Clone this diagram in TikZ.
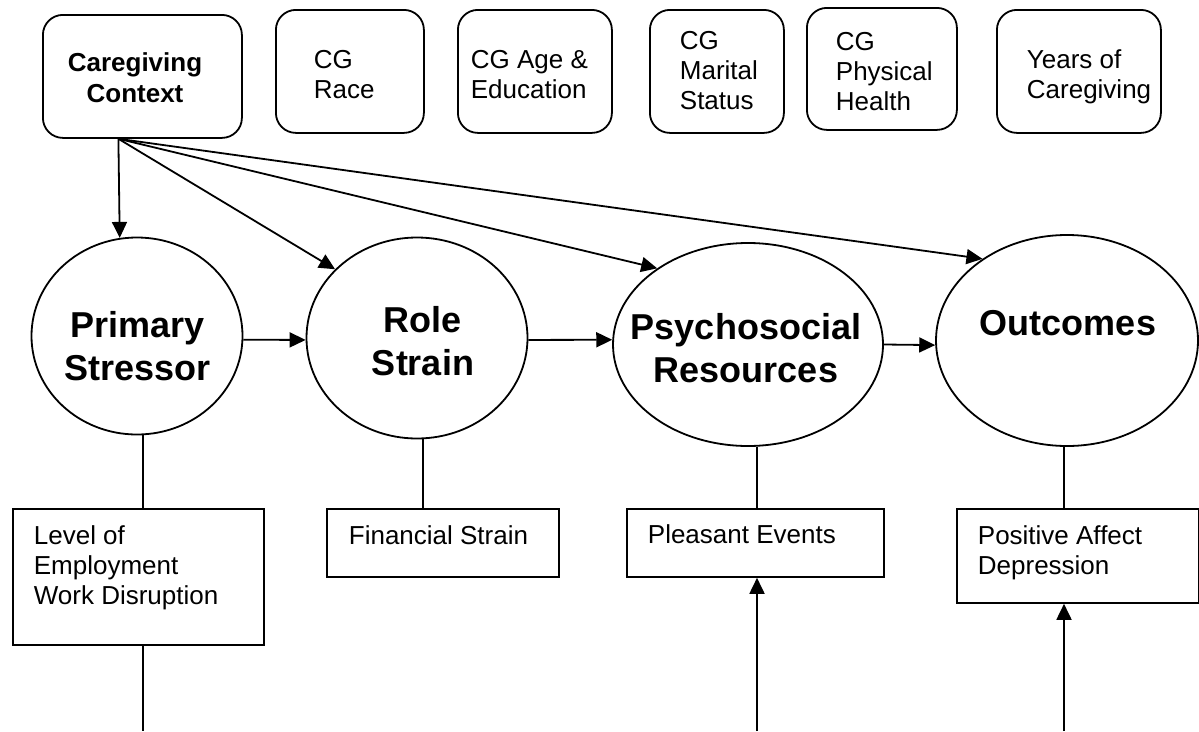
\documentclass[tikz,border=0pt]{standalone}
\usepackage{fontspec}
\setmainfont{Liberation Sans}
\usetikzlibrary{arrows.meta,shapes.geometric}

% stacked lines whose baseline is the baseline of the first line
\newcommand\leftlines[1]{\begin{tabular}[t]{@{}l@{}}#1\end{tabular}}
\newcommand\midlines[1]{\begin{tabular}[t]{@{}c@{}}#1\end{tabular}}

\begin{document}
\begin{tikzpicture}[x=1pt, y=-1pt, line width=1.8pt,
  >={Triangle[length=16pt,width=15pt]},
  rbox/.style={draw, rounded corners=20pt, anchor=north west, inner sep=0pt},
  sbox/.style={draw, anchor=north west, inner sep=0pt},
  oval/.style={draw, ellipse, inner sep=0pt},
  boxtext/.style={font=\fontsize{26}{30}\selectfont, inner sep=0pt, anchor=base west},
  headtext/.style={font=\fontsize{26}{31}\selectfont\bfseries, inner sep=0pt, anchor=base},
  ovaltext/.style={font=\fontsize{36}{43}\selectfont\bfseries, inner sep=0pt, anchor=base}]

\fill[white] (0,0) rectangle (1199,731);
\useasboundingbox (0,0) rectangle (1199,731);

% context boxes along the top
\node[rbox, minimum width=199pt, minimum height=123pt] (cc)   at (42,14)  {};
\node[rbox, minimum width=148pt, minimum height=123pt] (race) at (275,9)  {};
\node[rbox, minimum width=154pt, minimum height=123pt] (age)  at (457,9)  {};
\node[rbox, minimum width=134pt, minimum height=123pt] (mar)  at (649,9)  {};
\node[rbox, minimum width=150pt, minimum height=122pt] (phys) at (806,7)  {};
\node[rbox, minimum width=164pt, minimum height=123pt] (yrs)  at (996,9)  {};

\node[headtext] (cc-t)   at (135,71)  {\midlines{Caregiving\\Context}};
\node[boxtext]  (race-t) at (313,68)  {\leftlines{CG\\Race}};
\node[boxtext]  (age-t)  at (470,68)  {\leftlines{CG Age \&\\Education}};
\node[boxtext]  (mar-t)  at (679,49)  {\leftlines{CG\\Marital\\Status}};
\node[boxtext]  (phys-t) at (835,50)  {\leftlines{CG\\Physical\\Health}};
\node[boxtext]  (yrs-t)  at (1026,68) {\leftlines{Years of\\Caregiving}};

% the four constructs
\node[oval, minimum width=211pt, minimum height=197pt] (ps)  at (137,336)    {};
\node[oval, minimum width=221pt, minimum height=201pt] (rs)  at (417,338)    {};
\node[oval, minimum width=270pt, minimum height=203pt] (psy) at (748,344.5)  {};
\node[oval, minimum width=262pt, minimum height=211pt] (oc)  at (1067,340.5) {};

\node[ovaltext] (ps-t)  at (137.5,337) {\midlines{Primary\\Stressor}};
\node[ovaltext] (rs-t)  at (423,332)   {\midlines{Role\\Strain}};
\node[ovaltext] (psy-t) at (746,339)   {\midlines{Psychosocial\\Resources}};
\node[ovaltext] (oc-t)  at (1068,335)  {Outcomes};

% measures below each construct
\node[sbox, minimum width=251pt, minimum height=136pt] (lev) at (12,508)  {};
\node[sbox, minimum width=232pt, minimum height=68pt]  (fin) at (326,508) {};
\node[sbox, minimum width=257pt, minimum height=68pt]  (pe)  at (626,508) {};
\node[sbox, minimum width=242pt, minimum height=94pt]  (pa)  at (956,508) {};

\node[boxtext] (lev-t) at (33,544)  {\leftlines{Level of\\Employment\\Work Disruption}};
\node[boxtext] (fin-t) at (348,544) {Financial Strain};
\node[boxtext] (pe-t)  at (647,543) {Pleasant Events};
\node[boxtext] (pa-t)  at (977,544) {\leftlines{Positive Affect\\Depression}};

% paths from the caregiving context
\coordinate (src) at ([xshift=-24pt]cc.south);
\draw[->] (src) -- (ps.100);
\draw[->] (src) -- (rs.140);
\draw[->] (src) -- (psy.140);
\draw[->] (src) -- (oc.136);

% main chain
\draw[->] (ps.-2) -- (rs.181);
\draw[->] (rs.-1) -- (psy.178);
\draw[->] (psy.0) -- (oc.182);

% links to the measures
\coordinate (psb)  at ([xshift=6pt]ps.south);
\coordinate (rsb)  at ([xshift=6pt]rs.south);
\coordinate (psyb) at ([xshift=9pt]psy.south);
\coordinate (ocb)  at ([xshift=-3pt]oc.south);
\draw (psb)  -- (psb |- lev.north);
\draw (rsb)  -- (rsb |- fin.north);
\draw (psyb) -- (psyb |- pe.north);
\draw (ocb)  -- (ocb |- pa.north);

% lines running off the bottom edge
\coordinate (levend) at (143,731);
\coordinate (peend)  at (757,731);
\coordinate (paend)  at (1064,731);
\draw (levend |- lev.south) -- (levend);
\draw[->] (peend) -- (peend |- pe.south);
\draw[->] (paend) -- (paend |- pa.south);
\end{tikzpicture}
\end{document}
